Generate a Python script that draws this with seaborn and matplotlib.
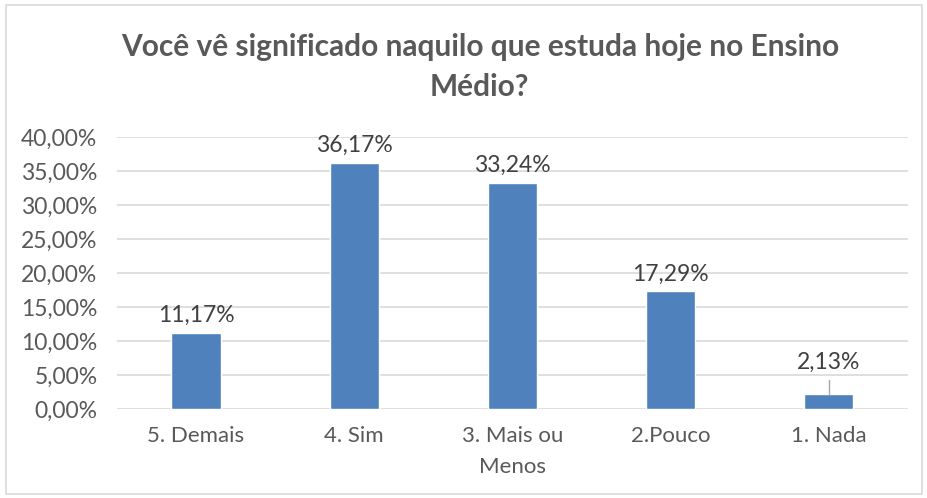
import numpy as np
import pandas as pd
import matplotlib
matplotlib.use('Agg')
import matplotlib.pyplot as plt
from matplotlib.patches import Rectangle
import seaborn as sns

categories = ['5. Demais', '4. Sim', '3. Mais ou\nMenos', '2.Pouco', '1. Nada']
values = [11.17, 36.17, 33.24, 17.29, 2.13]
yticks = [0, 5, 10, 15, 20, 25, 30, 35, 40]

df = pd.DataFrame({'cat': categories, 'val': values})

sns.set_theme(style='white')
plt.rcParams['font.family'] = ['Lato', 'DejaVu Sans']
txt = '#595959'

fig = plt.figure(figsize=(9.28, 4.98), dpi=100)
ax = fig.add_axes([0.126, 0.179, 0.852, 0.546])
sns.barplot(data=df, x='cat', y='val', color='#4F81BD', saturation=1, width=0.31, ax=ax)

ax.set_xlim(-0.5, len(categories) - 0.5)
ax.set_ylim(0, 40)
ax.set_yticks(yticks)
ax.set_yticklabels([f'{t:.2f}%'.replace('.', ',') for t in yticks], fontsize=16.5, color=txt)
ax.set_xticks(range(len(categories)))
ax.set_xticklabels(categories, fontsize=16, color=txt, linespacing=1.65)
ax.tick_params(axis='x', length=0, pad=12.5)
ax.tick_params(axis='y', length=0, pad=14)
ax.yaxis.grid(True, color='#D9D9D9', linewidth=1.2)
ax.set_axisbelow(True)
for s in ax.spines.values():
    s.set_visible(False)
ax.set_xlabel('')
ax.set_ylabel('')

for i, v in enumerate(values):
    off = 3.75 if v < 5 else 1.6
    ax.text(i, v + off, f'{v:.2f}%'.replace('.', ','), ha='center', va='baseline', fontsize=16.5, color='#404040')
    if v < 5:
        ax.plot([i, i], [v, v + 2.1], color='#A6A6A6', linewidth=1)

fig.text(0.517, 0.906, 'Você vê significado naquilo que estuda hoje no Ensino', ha='center', va='center',
         fontsize=21.5, fontweight='bold', color=txt)
fig.text(0.517, 0.825, 'Médio?', ha='center', va='center', fontsize=21.5, fontweight='bold', color=txt)

fig.patches.append(Rectangle((0.006, 0.008), 0.988, 0.982, transform=fig.transFigure, fill=False,
                             edgecolor='#D9D9D9', linewidth=1.2))

fig.savefig('out.png', dpi=100)
